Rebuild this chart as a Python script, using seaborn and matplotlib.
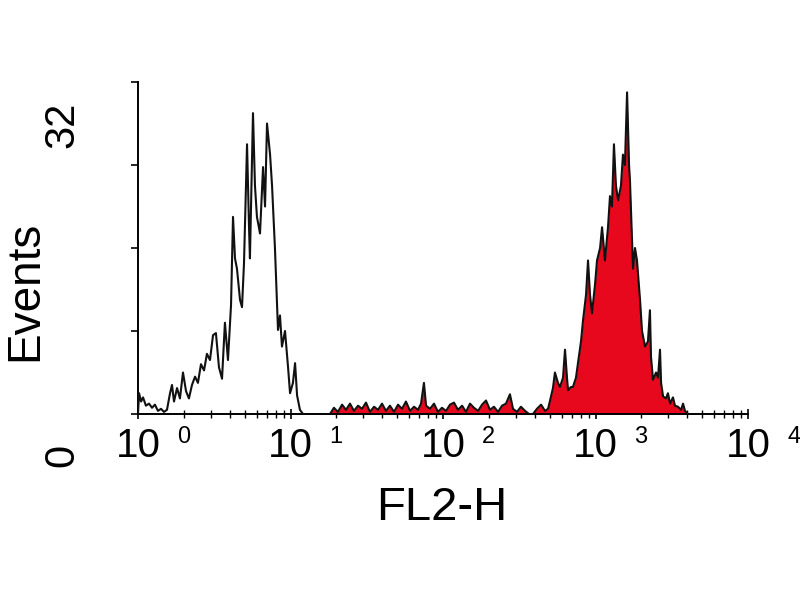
import numpy as np
import pandas as pd
import seaborn as sns
import matplotlib
matplotlib.use("Agg")
import matplotlib.pyplot as plt
import matplotlib.transforms as mtransforms

sns.set_style("white")
plt.rcParams['font.family'] = ['Liberation Sans', 'DejaVu Sans']

# ---------------- data (log10 of FL2-H channel, event counts) ----------------
open_log10 = [0.000, 0.007, 0.020, 0.033, 0.052, 0.072, 0.092, 0.111, 0.131, 0.151,
              0.170, 0.190, 0.210, 0.223, 0.236, 0.256, 0.275, 0.295, 0.315, 0.334,
              0.354, 0.374, 0.393, 0.413, 0.433, 0.452, 0.472, 0.492, 0.511, 0.531,
              0.551, 0.570, 0.590, 0.610, 0.623, 0.636, 0.649, 0.669, 0.682, 0.695,
              0.715, 0.728, 0.734, 0.754, 0.767, 0.780, 0.800, 0.820, 0.833, 0.846,
              0.866, 0.879, 0.898, 0.918, 0.931, 0.944, 0.964, 0.984, 0.997, 1.016,
              1.030, 1.043, 1.062, 1.082]
open_counts = [0.0, 2.0, 1.2, 1.6, 0.8, 1.0, 0.6, 0.9, 0.3, 0.5,
               0.2, 0.4, 2.0, 2.8, 1.2, 2.5, 1.5, 4.0, 2.2, 1.5,
               2.8, 3.6, 3.0, 4.8, 4.2, 5.8, 5.2, 7.6, 7.8, 4.5,
               3.4, 8.8, 5.2, 10.5, 19.0, 15.0, 14.0, 11.0, 10.3, 14.5,
               26.0, 18.0, 15.0, 29.0, 22.0, 19.0, 17.4, 23.8, 20.0, 28.0,
               25.0, 22.0, 16.0, 8.1, 9.5, 6.5, 8.0, 4.5, 2.0, 3.0,
               4.9, 1.8, 0.4, 0.0]

stained_log10 = [1.259, 1.285, 1.311, 1.338, 1.364, 1.390, 1.416, 1.443, 1.469, 1.495,
                 1.521, 1.548, 1.574, 1.600, 1.626, 1.652, 1.679, 1.705, 1.731, 1.757,
                 1.784, 1.810, 1.836, 1.856, 1.875, 1.889, 1.915, 1.941, 1.967, 1.993,
                 2.020, 2.046, 2.072, 2.098, 2.125, 2.151, 2.177, 2.203, 2.230, 2.256,
                 2.282, 2.308, 2.334, 2.361, 2.387, 2.413, 2.439, 2.459, 2.485, 2.511,
                 2.538, 2.564, 2.590, 2.616, 2.643, 2.669,
                 2.689, 2.702, 2.721, 2.734, 2.754, 2.767, 2.787, 2.800, 2.813, 2.820,
                 2.839, 2.852, 2.872, 2.885, 2.905, 2.918, 2.938, 2.951, 2.964, 2.977,
                 2.997, 3.010, 3.030, 3.043, 3.062, 3.082, 3.095, 3.108, 3.121, 3.134,
                 3.148, 3.167, 3.180, 3.193, 3.207, 3.220, 3.226, 3.246, 3.259, 3.272,
                 3.292, 3.305, 3.325, 3.344, 3.357, 3.364, 3.377, 3.397, 3.410, 3.423,
                 3.430, 3.443, 3.462, 3.475, 3.489, 3.508, 3.521, 3.541, 3.561, 3.574,
                 3.587, 3.607]
stained_counts = [0.0, 0.6, 0.2, 0.9, 0.4, 1.0, 0.3, 0.8, 0.5, 1.1,
                  0.2, 0.7, 0.4, 1.0, 0.3, 0.8, 0.2, 0.9, 0.5, 1.2,
                  0.3, 0.7, 0.4, 1.0, 3.0, 0.8, 0.5, 1.0, 0.2, 0.6,
                  0.3, 0.9, 1.1, 0.4, 0.8, 0.2, 1.0, 0.6, 0.3, 0.9,
                  1.3, 0.4, 0.7, 0.2, 0.8, 1.0, 1.9, 0.5, 0.2, 0.7,
                  0.3, 0.0, 0.0, 0.5, 0.9, 0.3,
                  0.5, 1.3, 2.5, 4.0, 3.0, 2.6, 3.5, 6.2, 3.5, 2.3,
                  2.6, 2.6, 3.5, 4.9, 7.0, 9.0, 11.5, 14.8, 11.5, 9.7,
                  12.5, 14.8, 16.0, 18.0, 14.8, 18.0, 21.0, 20.0, 26.0, 22.0,
                  20.6, 22.0, 25.0, 24.0, 31.0, 24.0, 22.5, 14.0, 16.0, 14.8,
                  11.0, 8.0, 6.5, 7.0, 10.0, 5.5, 3.3, 4.0, 3.5, 6.2,
                  3.0, 1.7, 1.5, 2.0, 1.0, 1.6, 0.8, 0.7, 0.4, 1.0,
                  0.3, 0.0]

x_tick_exponents = [0, 1, 2, 3, 4]
x_tick_base = "10"
y_ticks = [0, 8, 16, 24, 32]
y_label_top = "32"
y_label_bottom = "0"
x_title = "FL2-H"
y_title = "Events"

open_df = pd.DataFrame({"FL2-H": np.power(10.0, open_log10), "Events": open_counts})
stained_df = pd.DataFrame({"FL2-H": np.power(10.0, stained_log10), "Events": stained_counts})

# ---------------- figure ----------------
fig = plt.figure(figsize=(8, 6), dpi=100)
ax = fig.add_axes([138 / 800, 1 - 414 / 600, 610 / 800, 332 / 600])

ax.fill_between(stained_df["FL2-H"], 0, stained_df["Events"], color="#E8081E", lw=0, zorder=2)
sns.lineplot(data=stained_df, x="FL2-H", y="Events", sort=False, estimator=None,
             color="#111111", lw=1.5, ax=ax, zorder=3)
sns.lineplot(data=open_df, x="FL2-H", y="Events", sort=False, estimator=None,
             color="#111111", lw=1.5, ax=ax, zorder=3)

ax.set_xscale("log")
ax.set_xlim(1, 1e4)
ax.set_ylim(0, 32)

sns.despine(ax=ax)
for s in ["left", "bottom"]:
    ax.spines[s].set_linewidth(1.4)
    ax.spines[s].set_color("black")

ax.set_xticks([10.0 ** e for e in x_tick_exponents])
ax.set_xticklabels([x_tick_base] * len(x_tick_exponents), fontsize=29)
ax.xaxis.set_minor_locator(matplotlib.ticker.LogLocator(base=10, subs=np.arange(2, 10)))
ax.xaxis.set_minor_formatter(matplotlib.ticker.NullFormatter())
ax.tick_params(axis="x", which="major", direction="inout", length=7, width=1.2,
               color="black", pad=6, labelcolor="black")
ax.tick_params(axis="x", which="minor", direction="inout", length=6, width=1.0, color="black")
ax.tick_params(axis="x", which="both", bottom=True)

ax.set_yticks(y_ticks)
ax.set_yticklabels([])
ax.tick_params(axis="y", which="major", direction="out", length=5, width=1.2,
               color="black", left=True)

# superscript exponents next to each "10"
trans = mtransforms.blended_transform_factory(ax.transData, ax.transAxes)
trans_off = mtransforms.offset_copy(trans, fig=fig, x=39, y=0, units="dots")
for e in x_tick_exponents:
    ax.text(10.0 ** e, -0.036, str(e), transform=trans_off, fontsize=17,
            ha="left", va="top", color="black", clip_on=False)

ax.set_xlabel(x_title, fontsize=34, color="black")
ax.xaxis.set_label_coords((442 - 138) / 610, (414 - 486) / 332)
ax.xaxis.label.set_verticalalignment("top")

ax.set_ylabel(y_title, fontsize=33, color="black")
ax.yaxis.set_label_coords((47 - 138) / 610, (414 - 291) / 332)

fig.text(62 / 800, 1 - 125 / 600, y_label_top, rotation=90, fontsize=30,
         ha="center", va="center", color="black")
fig.text(62 / 800, 1 - 455 / 600, y_label_bottom, rotation=90, fontsize=30,
         ha="center", va="center", color="black")

fig.patch.set_facecolor("white")
ax.set_facecolor("white")
fig.savefig("out.png", dpi=100, facecolor="white")
